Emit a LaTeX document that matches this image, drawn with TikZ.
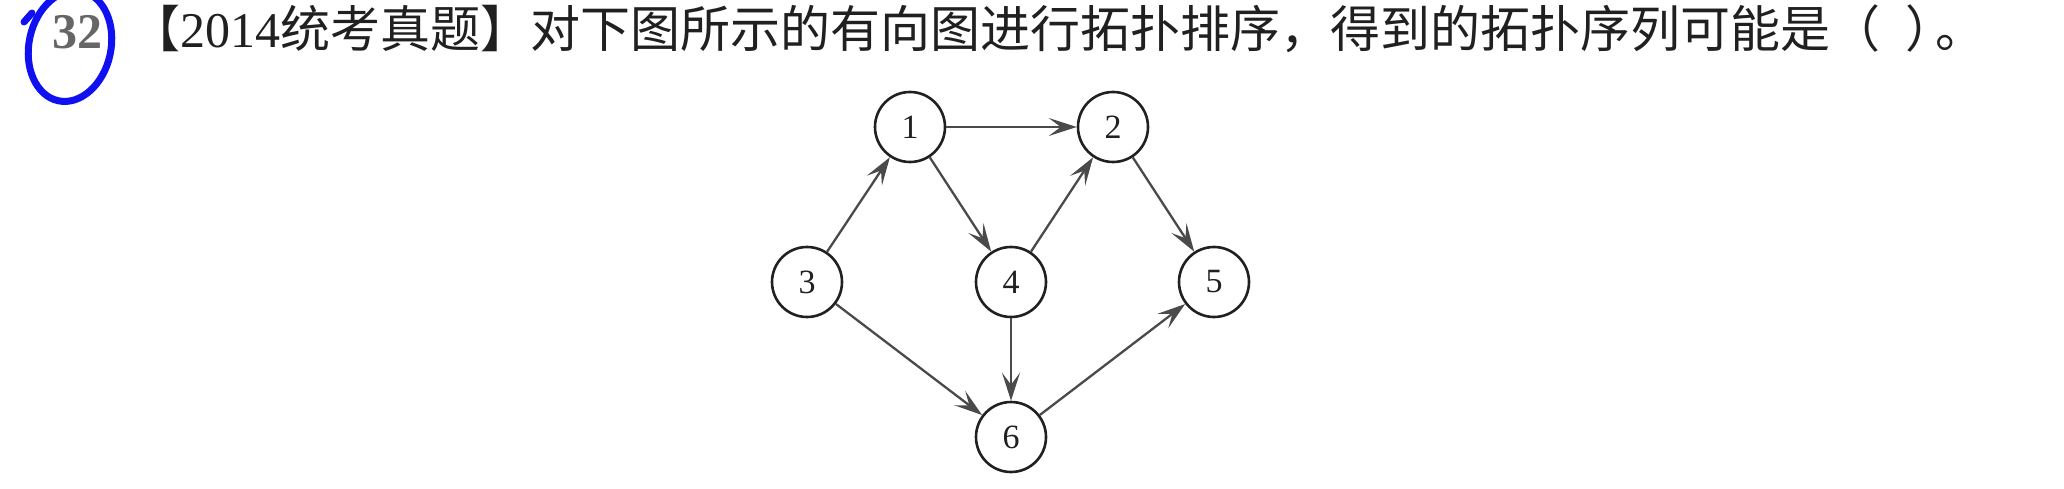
\documentclass[tikz,border=0pt]{standalone}
\usepackage{fontspec}
\usetikzlibrary{arrows.meta}
\newfontfamily\cjk{Noto Sans CJK SC}
\newfontfamily\serifdigits{Liberation Serif}
\definecolor{edgegray}{HTML}{4A4A4A}
\definecolor{textdark}{HTML}{202020}
\definecolor{markblue}{HTML}{1010F0}
\tikzset{
  vtx/.style={circle, draw=textdark, line width=2.6pt, fill=white, minimum size=70pt, inner sep=0pt,
    font=\serifdigits\fontsize{34}{34}\selectfont, text=textdark},
  arc/.style={draw=edgegray, line width=2.3pt, -{Stealth[length=28pt,width=18pt,inset=12pt]}},
  header/.style={anchor=base west, inner sep=0pt, text=textdark, font=\cjk\fontsize{50}{60}\selectfont},
  qnum/.style={inner sep=0pt, text=gray!80!black, font=\serifdigits\bfseries\fontsize{50}{50}\selectfont},
  bluering/.style={draw=markblue, line width=7pt, line cap=round}
}
\begin{document}
\begin{tikzpicture}[x=1pt,y=-1pt]
\useasboundingbox (0,0) rectangle (2064,489);
% question number with hand-drawn blue ring
\node[qnum] (qn) at (77,32) {32};
\draw[bluering, rotate around={-12:(70,46)}] (70,46) ellipse [x radius=41pt, y radius=56pt];
\draw[bluering] (24,22) -- (32,13);
% header text
\node[header] (title) at (130,48) {【{\serifdigits 2014}统考真题】对下图所示的有向图进行拓扑排序，得到的拓扑序列可能是（\hspace{0.5em}）\kern-0.4em 。};
% graph
\node[vtx] (n1) at (910,127) {1};
\node[vtx] (n2) at (1113,127) {2};
\node[vtx] (n3) at (807,282) {3};
\node[vtx] (n4) at (1011,282) {4};
\node[vtx] (n5) at (1214,282) {5};
\node[vtx] (n6) at (1011,437) {6};
\draw[arc] (n1) -- (n2);
\draw[arc] (n1) -- (n4);
\draw[arc] (n3) -- (n1);
\draw[arc] (n3) -- (n6);
\draw[arc] (n4) -- (n2);
\draw[arc] (n4) -- (n6);
\draw[arc] (n2) -- (n5);
\draw[arc] (n6) -- (n5);
\end{tikzpicture}
\end{document}
